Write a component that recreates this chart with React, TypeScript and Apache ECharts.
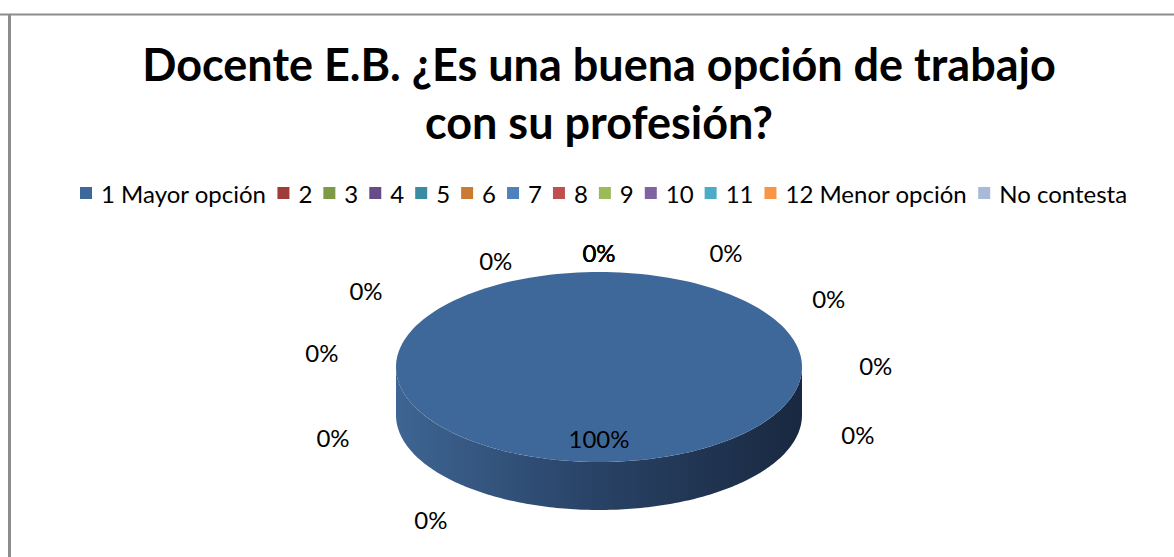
import React, { useEffect, useRef } from "react";
import * as echarts from "echarts";

const titleText = "Docente E.B. ¿Es una buena opción de trabajo\ncon su profesión?";
const categories = [
  "1 Mayor opción", "2", "3", "4", "5", "6", "7", "8", "9", "10", "11", "12 Menor opción", "No contesta",
];
const values = [100, 0, 0, 0, 0, 0, 0, 0, 0, 0, 0, 0, 0];
const colors = [
  "#3F689A", "#9E3C39", "#7E9A47", "#674D87", "#3A8CA4", "#CB7A33",
  "#4F81BD", "#C0504D", "#9BBB59", "#8064A2", "#4BACC6", "#F79646", "#A8B9D9",
];
// label placement of empty slices (Excel spreads them around the pie): angle (deg, clockwise from top) and ring factor
const emptyLabelAngles = [0, 0, 0, 24.4, 51, 79.3, 108, 213.5, 251.3, 286.1, 311.2, 338.5];
const emptyLabelRing = [1, 1, 1, 1.098, 1.056, 1.006, 0.972, 1.088, 1.003, 1.03, 1.106, 1.006];

const FONT = "Lato, 'Open Sans', sans-serif";

export default function App() {
  const ref = useRef<HTMLDivElement>(null);
  useEffect(() => {
    document.body.style.margin = "0";
    const chart = echarts.init(ref.current!, null, { renderer: "svg" });
    const total = values.reduce((a, b) => a + b, 0);
    const cx = 599, cy = 367, rx = 203, ry = 95, depth = 48;
    const lcx = 599, lcy = 392, lrx = 280, lry = 140;
    const pt = (a: number, dy = 0, f = 1) => [cx + rx * f * Math.sin(a), cy - ry * f * Math.cos(a) + dy];

    const series = categories.map((name, i) => ({
      type: "custom",
      name,
      coordinateSystem: "none",
      silent: true,
      itemStyle: { color: colors[i] },
      data: [[values[i]]],
      renderItem: (params: any, api: any) => {
        const v = api.value(0) as number;
        const start = values.slice(0, i).reduce((a, b) => a + b, 0);
        const a0 = (start / total) * Math.PI * 2;
        const a1 = ((start + v) / total) * Math.PI * 2;
        const children: any[] = [];
        const pct = Math.round((v / total) * 100) + "%";
        if (v > 0) {
          const steps = 180;
          const top: number[][] = [];
          const full = a1 - a0 >= Math.PI * 2 - 1e-9;
          if (!full) top.push([cx, cy]);
          for (let k = 0; k <= steps; k++) top.push(pt(a0 + ((a1 - a0) * k) / steps));
          const s0 = Math.max(a0, Math.PI / 2), s1 = Math.min(a1, (Math.PI * 3) / 2);
          if (s1 > s0) {
            const upper: number[][] = [], lower: number[][] = [];
            for (let k = 0; k <= steps; k++) {
              const a = s0 + ((s1 - s0) * k) / steps;
              upper.push(pt(a));
              lower.push(pt(a, depth));
            }
            children.push({
              type: "polygon",
              z2: 1,
              shape: { points: upper.concat(lower.reverse()) },
              style: {
                fill: new echarts.graphic.LinearGradient(0, 0, 1, 0, [
                  { offset: 0, color: "#3E6593" },
                  { offset: 0.45, color: "#2A4569" },
                  { offset: 1, color: "#192840" },
                ]),
              },
            });
          }
          children.push({ type: "polygon", z2: 5, shape: { points: top }, style: { fill: api.visual("color") } });
          const mid = (a0 + a1) / 2;
          const p = pt(mid, 0, 0.75);
          children.push({
            type: "text", z2: 10,
            style: { text: pct, x: p[0], y: p[1], align: "center", verticalAlign: "middle", fontSize: 24, fontFamily: FONT, fill: "#000" },
          });
        } else {
          const k = values.slice(0, i).filter((x) => x === 0).length;
          const ang = ((emptyLabelAngles[k] ?? 0) * Math.PI) / 180;
          const f = emptyLabelRing[k] ?? 1;
          children.push({
            type: "text", z2: 10,
            style: {
              text: pct, x: lcx + lrx * f * Math.sin(ang), y: lcy - lry * f * Math.cos(ang),
              align: "center", verticalAlign: "middle", fontSize: 24, fontFamily: FONT, fill: "#000",
            },
          });
        }
        return { type: "group", children };
      },
    }));

    chart.setOption({
      animation: false,
      title: {
        text: titleText,
        left: 594,
        top: 30,
        textAlign: "center",
        textStyle: { fontFamily: FONT, fontSize: 45, fontWeight: "bold", color: "#000", lineHeight: 58 },
      },
      legend: {
        data: categories,
        top: 181,
        left: 80,
        padding: 0,
        icon: "rect",
        itemWidth: 12,
        itemHeight: 12,
        itemGap: 11,
        selectedMode: false,
        textStyle: { fontFamily: FONT, fontSize: 24, color: "#000", padding: [0, 0, 0, 4] },
      },
      graphic: [
        { type: "line", shape: { x1: 0, y1: 14.5, x2: 1174, y2: 14.5 }, style: { stroke: "#8c8c8c", lineWidth: 2 } },
        { type: "line", shape: { x1: 9.5, y1: 14, x2: 9.5, y2: 557 }, style: { stroke: "#8c8c8c", lineWidth: 3 } },
      ],
      series,
    });
    return () => chart.dispose();
  }, []);
  return <div ref={ref} style={{ width: 1174, height: 557 }} />;
}
